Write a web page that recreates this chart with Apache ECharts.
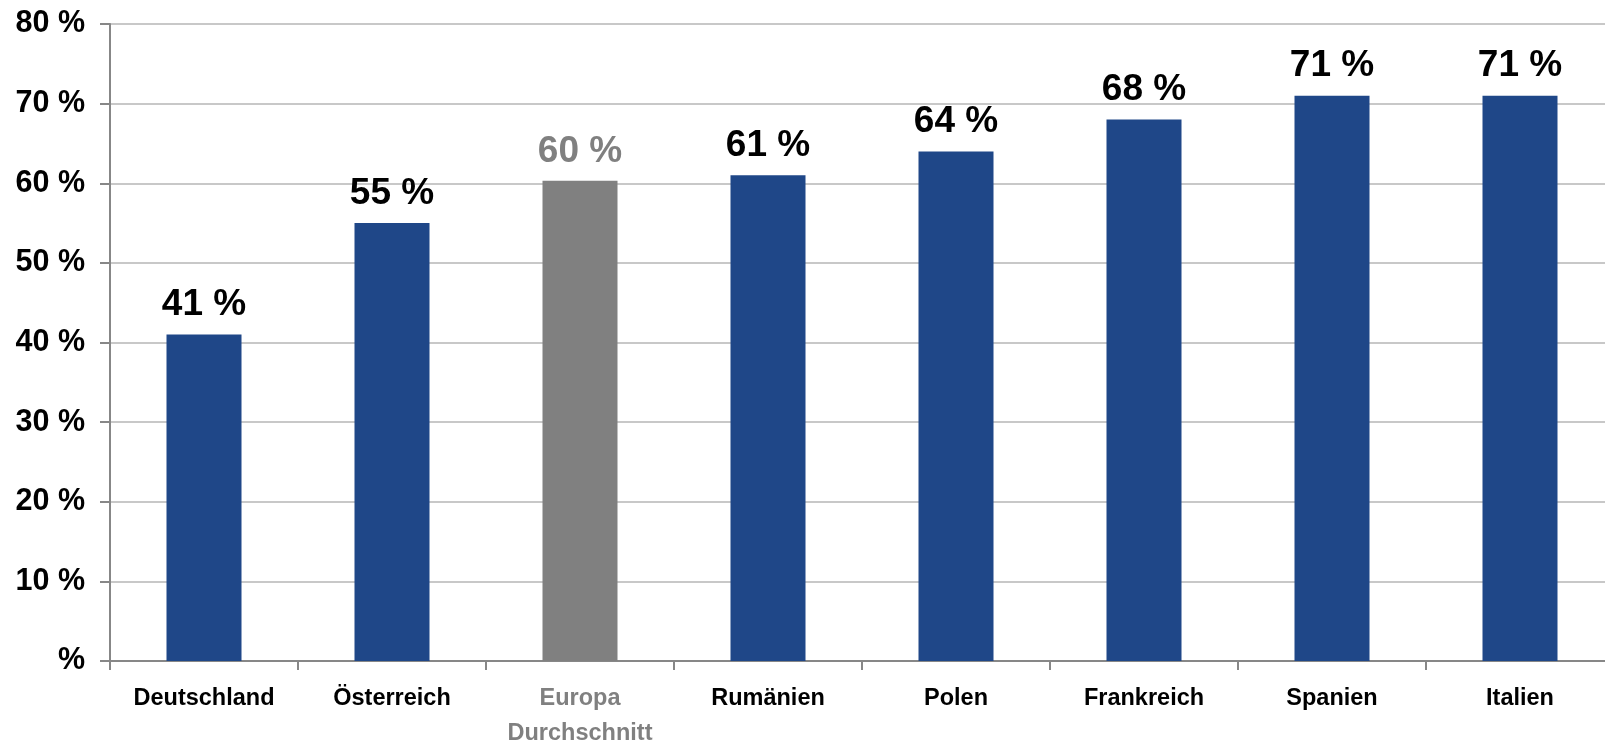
<!DOCTYPE html>
<html><head><meta charset="utf-8">
<script src="https://cdn.jsdelivr.net/npm/echarts@6/dist/echarts.min.js"></script>
<style>html,body{margin:0;padding:0;background:#fff}#c{width:1605px;height:742px}</style>
</head><body><div id="c"></div>
<script>
const categories = ['Deutschland','Österreich','Europa\nDurchschnitt','Rumänien','Polen','Frankreich','Spanien','Italien'];
const values = [41, 55, 60.3, 61, 64, 68, 71, 71];
const valueLabels = ['41 %','55 %','60 %','61 %','64 %','68 %','71 %','71 %'];
const highlightIndex = 2;
const blue = '#1F4788', grey = '#808080';
const chart = echarts.init(document.getElementById('c'));
chart.setOption({
  animation:false,
  grid:{left:110,right:-9,top:24,bottom:81,containLabel:false,outerBoundsMode:'none'},
  xAxis:{type:'category',data:categories,
    axisLine:{lineStyle:{color:'#878787',width:2}},
    axisTick:{show:true,interval:0,length:9,lineStyle:{color:'#878787',width:2}},
    axisLabel:{interval:0,fontFamily:'Liberation Sans, Arial',fontWeight:'bold',fontSize:23.5,margin:20,lineHeight:35,
      color:(v,i)=> i===highlightIndex?grey:'#000'}},
  yAxis:{type:'value',min:0,max:80,interval:10,
    axisLine:{show:true,lineStyle:{color:'#878787',width:2}},
    axisTick:{show:true,length:10,lineStyle:{color:'#878787',width:2}},
    splitLine:{lineStyle:{color:'#c8c8c8',width:2}},
    axisLabel:{fontFamily:'Liberation Sans, Arial',fontWeight:'bold',fontSize:30.5,color:'#000',margin:25,
      formatter:v=> v===0?'%':v+' %'}},
  series:[{type:'bar',barWidth:75,
    data:values.map((v,i)=>({value:v,itemStyle:{color:i===highlightIndex?grey:blue},
      label:{color:i===highlightIndex?grey:'#000'}})),
    label:{show:true,position:'top',distance:11,fontFamily:'Liberation Sans, Arial',fontWeight:'bold',fontSize:37,
      formatter:p=>valueLabels[p.dataIndex]}}]
});
</script></body></html>
